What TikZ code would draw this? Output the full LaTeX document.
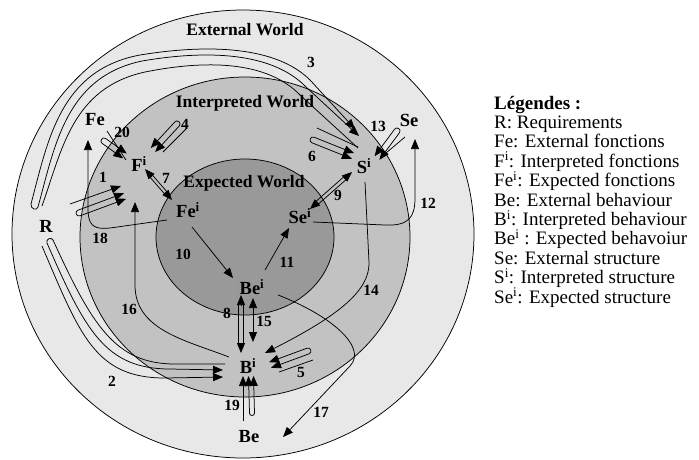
\documentclass[tikz,border=0pt]{standalone}
\usepackage{fontspec}
\setmainfont{Liberation Serif}
\usetikzlibrary{calc,arrows.meta}
\definecolor{extw}{gray}{0.91}
\definecolor{intw}{gray}{0.76}
\definecolor{expw}{gray}{0.60}
\newcommand\hpin[4][biarr]{%
  \draw[#1] ($(#3)!#4pt!-90:(#2)$) -- ($(#2)!#4pt!90:(#3)$)
    .. controls ($(#2)!#4pt!90:(#3)!-1.33*#4pt!(#3)$) and ($(#2)!#4pt!-90:(#3)!-1.33*#4pt!(#3)$)
    .. ($(#2)!#4pt!-90:(#3)$) -- ($(#3)!#4pt!90:(#2)$);}
\newcommand\dblarr[3]{%
  \draw[ln,shorten <=7pt,shorten >=7pt] ($(#1)!#3pt!90:(#2)$) -- ($(#2)!#3pt!-90:(#1)$);
  \draw[ln,shorten <=7pt,shorten >=7pt] ($(#1)!#3pt!-90:(#2)$) -- ($(#2)!#3pt!90:(#1)$);
  \draw[arr] ($(#2)!10.5pt!(#1)$) -- (#2);
  \draw[arr] ($(#1)!10.5pt!(#2)$) -- (#1);}
\begin{document}
\begin{tikzpicture}[x=1pt,y=-1pt,
  ln/.style={line width=0.75pt},
  arr/.style={ln,-{Triangle[length=10pt,width=8pt]}},
  biarr/.style={ln,{Triangle[length=10pt,width=8pt]}-{Triangle[length=10pt,width=8pt]}},
  lbl/.style={font=\fontsize{18.5}{19}\selectfont\bfseries,inner sep=0pt},
  world/.style={font=\fontsize{17.5}{18}\selectfont\bfseries,inner sep=0pt},
  num/.style={font=\fontsize{15.5}{16}\selectfont\bfseries,inner sep=0pt},
  leg/.style={font=\fontsize{19}{19}\selectfont,inner sep=0pt,anchor=base west}]
\useasboundingbox (0,0) rectangle (699,459);
% worlds
\draw[ln,fill=extw] (243,234) ellipse [x radius=231pt, y radius=224pt];
\draw[ln,fill=intw] (245,237) ellipse [x radius=165pt, y radius=160pt];
\draw[ln,fill=expw] (245,237) ellipse [x radius=89pt, y radius=78pt];
\node[world] (wExt) at (245,30) {External World};
\node[world] (wInt) at (245,103) {Interpreted World};
\node[world] (wExp) at (244,183) {Expected World};
% main labels
\node[lbl] (Fe) at (95,120) {Fe};
\node[lbl] (Se) at (409,120) {Se};
\node[lbl] (R) at (46,226) {R};
\node[lbl] (Fi) at (139,164) {F\textsuperscript{i}};
\node[lbl] (Fei) at (188,210) {Fe\textsuperscript{i}};
\node[lbl] (Sei) at (300,216) {Se\textsuperscript{i}};
\node[lbl] (Si) at (364,166) {S\textsuperscript{i}};
\node[lbl] (Bei) at (252,287) {Be\textsuperscript{i}};
\node[lbl] (Bi) at (248,366) {B\textsuperscript{i}};
\node[lbl] (Be) at (249,437) {Be};
% numbers
\node[num] (n1) at (103,177) {1};
\node[num] (n2) at (112,381) {2};
\node[num] (n3) at (311,62) {3};
\node[num] (n4) at (185,124) {4};
\node[num] (n5) at (301,372) {5};
\node[num] (n6) at (312,156) {6};
\node[num] (n7) at (166,178) {7};
\node[num] (n8) at (227,313) {8};
\node[num] (n9) at (338,195) {9};
\node[num] (n10) at (183,254) {10};
\node[num] (n11) at (287,262) {11};
\node[num] (n12) at (428,203) {12};
\node[num] (n13) at (378,126) {13};
\node[num] (n14) at (371,290) {14};
\node[num] (n15) at (264,321) {15};
\node[num] (n16) at (129,309) {16};
\node[num] (n17) at (321,412) {17};
\node[num] (n18) at (100,238) {18};
\node[num] (n19) at (232,405) {19};
\node[num] (n20) at (122,132) {20};
% endpoints
\coordinate (c1t) at (79,213); \coordinate (c1h) at (125,196);
\coordinate (c1a) at (70,204); \coordinate (c1b) at (121,186);
\coordinate (c20t) at (104,141); \coordinate (c20h) at (125,156);
\coordinate (c20a) at (107,131); \coordinate (c20b) at (126,160);
\coordinate (c4t) at (177,124); \coordinate (c4h) at (153,150);
\coordinate (c4a) at (186,129); \coordinate (c4b) at (163,152);
\coordinate (c6t) at (313,140); \coordinate (c6h) at (353,156);
\coordinate (c6a) at (317,128); \coordinate (c6b) at (358,147);
\coordinate (c13t) at (397,131); \coordinate (c13h) at (377,158);
\coordinate (c13a) at (405,137); \coordinate (c13b) at (386,153);
\coordinate (c5t) at (308,351); \coordinate (c5h) at (270,365);
\coordinate (c5a) at (313,360); \coordinate (c5b) at (279,372);
\coordinate (c19t) at (252,413); \coordinate (c19h) at (251,376);
\coordinate (c19a) at (243,421); \coordinate (c19b) at (243,376);
\coordinate (c7a) at (145,169); \coordinate (c7b) at (172,200);
\coordinate (c9a) at (310,209); \coordinate (c9b) at (352,172);
\coordinate (c8a) at (241,295); \coordinate (c8b) at (241,353);
\coordinate (c15a) at (253,298); \coordinate (c15b) at (253,342);
\coordinate (c10a) at (192,227); \coordinate (c10b) at (233,278);
\coordinate (c11a) at (265,270); \coordinate (c11b) at (289,228);
\coordinate (c12a) at (313,222); \coordinate (c12b) at (415,139);
\coordinate (c18a) at (167,220); \coordinate (c18b) at (88,140);
\coordinate (c16a) at (229,357); \coordinate (c16b) at (135,202);
\coordinate (c14a) at (365,182); \coordinate (c14b) at (265,353);
\coordinate (c17a) at (278,295); \coordinate (c17b) at (283,437);
\coordinate (c2a) at (42,246); \coordinate (c2b) at (223,377);
\coordinate (c2c) at (225,364); \coordinate (c2d) at (223,370);
\coordinate (c3a) at (355,129); \coordinate (c3b) at (359,136);
\coordinate (c3c) at (42,206); \coordinate (c3d) at (358,148);
% hairpin pairs
\hpin{c1t}{c1h}{3} \draw[arr] (c1a) -- (c1b);
\hpin{c20t}{c20h}{3} \draw[ln] (c20a) -- (c20b);
\hpin{c4t}{c4h}{3} \draw[ln] (c4a) -- (c4b);
\hpin{c6t}{c6h}{3} \draw[ln] (c6a) -- (c6b);
\hpin{c13t}{c13h}{3} \draw[ln] (c13a) -- (c13b);
\hpin{c5t}{c5h}{3} \draw[ln] (c5a) -- (c5b);
\hpin{c19t}{c19h}{2.5} \draw[arr] (c19a) -- (c19b);
% double arrows
\dblarr{c7a}{c7b}{1.6}
\dblarr{c9a}{c9b}{1.8}
\dblarr{c8a}{c8b}{2.2}
\draw[biarr] (c15a) -- (c15b);
% single arrows
\draw[arr] (c10a) -- (c10b);
\draw[arr] (c11a) -- (c11b);
\draw[arr] (c12a) -- (385,225) .. controls (408,226) and (415,218) .. (415,198) -- (c12b);
\draw[arr] (c18a) -- (110,228) .. controls (92,230) and (88,224) .. (88,208) -- (c18b);
\draw[arr] (c16a) .. controls (185,340) and (135,330) .. (135,285) -- (c16b);
\draw[arr] (c14a) -- (369,262) .. controls (370,290) and (340,315) .. (c14b);
\draw[arr] (c17a) .. controls (330,315) and (368,347) .. (350,366) -- (c17b);
% process 2
\draw[arr] (c2a) .. controls (80,335) and (95,378) .. (165,378) -- (c2b);
\draw[arr] (c2c) -- (175,364) .. controls (115,364) and (92,325) .. (53,240)
  .. controls (51.3,236.4) and (45.3,239.4) .. (47,243)
  .. controls (85,330) and (105,369) .. (170,369) -- (c2d);
% process 3
\draw[biarr] (c3a) -- (310,80) .. controls (280,50) and (220,42) .. (140,55)
  .. controls (60,70) and (48,140) .. (31,204)
  .. controls (30,208.5) and (37,211.5) .. (38,207)
  .. controls (55,145) and (66,77) .. (142,61)
  .. controls (218,48) and (275,56) .. (305,86) -- (c3b);
\draw[ln] (c3c) .. controls (62,150) and (72,88) .. (145,72)
  .. controls (215,58) and (270,64) .. (300,95) -- (c3d);
% legend
\node[leg] (l0) at (494,109) {\bfseries Légendes :};
\node[leg] (l1) at (494,128.4) {R: Requirements};
\node[leg] (l2) at (494,147.8) {Fe: External fonctions};
\node[leg] (l3) at (494,167.2) {F\textsuperscript{i}: Interpreted fonctions};
\node[leg] (l4) at (494,186.6) {Fe\textsuperscript{i}: Expected fonctions};
\node[leg] (l5) at (494,206) {Be: External behaviour};
\node[leg] (l6) at (494,225.4) {B\textsuperscript{i}: Interpreted behaviour};
\node[leg] (l7) at (494,244.8) {Be\textsuperscript{i} : Expected behavoiur};
\node[leg] (l8) at (494,264.2) {Se: External structure};
\node[leg] (l9) at (494,283.6) {S\textsuperscript{i}: Interpreted structure};
\node[leg] (l10) at (494,303) {Se\textsuperscript{i}: Expected structure};
\end{tikzpicture}
\end{document}
